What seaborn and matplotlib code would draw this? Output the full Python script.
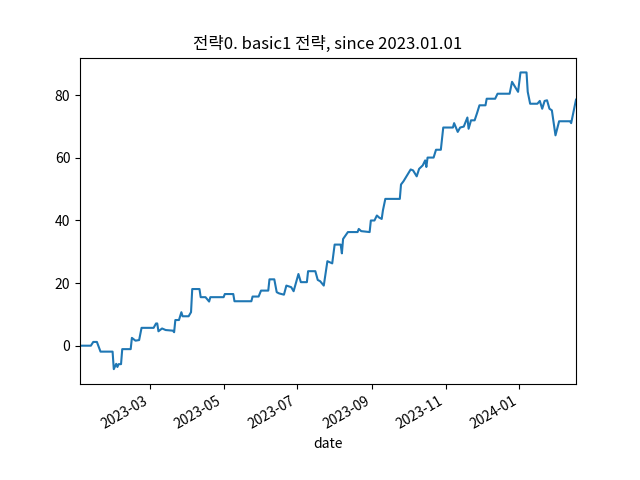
import matplotlib
matplotlib.use("Agg")
import matplotlib.pyplot as plt
import seaborn as sns
import pandas as pd

plt.rcParams['font.family'] = ['Noto Sans CJK KR', 'DejaVu Sans']
plt.rcParams['axes.unicode_minus'] = False

title = "전략0. basic1 전략, since 2023.01.01"

dates = [
    "2023-01-02", "2023-01-11", "2023-01-13", "2023-01-16", "2023-01-19", "2023-01-29",
    "2023-01-30", "2023-02-01", "2023-02-02", "2023-02-03", "2023-02-05", "2023-02-06",
    "2023-02-13", "2023-02-14", "2023-02-17", "2023-02-20", "2023-02-22", "2023-03-04",
    "2023-03-06", "2023-03-07", "2023-03-08", "2023-03-11", "2023-03-14", "2023-03-20",
    "2023-03-21", "2023-03-22", "2023-03-25", "2023-03-27", "2023-03-28", "2023-04-02",
    "2023-04-04", "2023-04-05", "2023-04-11", "2023-04-12", "2023-04-16", "2023-04-19",
    "2023-04-20", "2023-05-01", "2023-05-02", "2023-05-09", "2023-05-10", "2023-05-24",
    "2023-05-25", "2023-05-30", "2023-06-01", "2023-06-07", "2023-06-08", "2023-06-12",
    "2023-06-14", "2023-06-16", "2023-06-20", "2023-06-22", "2023-06-26", "2023-06-28",
    "2023-07-02", "2023-07-04", "2023-07-09", "2023-07-10", "2023-07-16", "2023-07-18",
    "2023-07-20", "2023-07-23", "2023-07-26", "2023-07-30", "2023-08-01", "2023-08-06",
    "2023-08-07", "2023-08-08", "2023-08-12", "2023-08-20", "2023-08-21", "2023-08-23",
    "2023-08-30", "2023-08-31", "2023-09-03", "2023-09-05", "2023-09-07", "2023-09-09",
    "2023-09-10", "2023-09-12", "2023-09-24", "2023-09-25", "2023-09-27", "2023-10-03",
    "2023-10-05", "2023-10-08", "2023-10-10", "2023-10-13", "2023-10-15", "2023-10-16",
    "2023-10-17", "2023-10-22", "2023-10-24", "2023-10-28", "2023-10-30", "2023-11-07",
    "2023-11-08", "2023-11-11", "2023-11-13", "2023-11-16", "2023-11-19", "2023-11-20",
    "2023-11-22", "2023-11-25", "2023-11-27", "2023-11-29", "2023-12-04", "2023-12-05",
    "2023-12-12", "2023-12-14", "2023-12-24", "2023-12-26", "2023-12-31", "2024-01-02",
    "2024-01-07", "2024-01-08", "2024-01-10", "2024-01-16", "2024-01-18", "2024-01-20",
    "2024-01-22", "2024-01-24", "2024-01-26", "2024-01-28", "2024-01-31", "2024-02-03",
    "2024-02-12", "2024-02-13", "2024-02-17",
]

values = [
    0.0, 0.0, 1.2, 1.2, -1.9, -1.9,
    -7.5, -5.8, -6.8, -5.9, -5.9, -1.1,
    -1.1, 2.5, 1.6, 1.8, 5.7, 5.7,
    7.1, 7.1, 4.6, 5.5, 5.0, 4.8,
    4.3, 8.2, 8.2, 10.7, 9.4, 9.4,
    10.7, 18.1, 18.1, 15.5, 15.5, 14.1,
    15.5, 15.5, 16.5, 16.5, 14.2, 14.2,
    15.7, 15.7, 17.6, 17.6, 21.2, 21.2,
    17.1, 16.7, 16.3, 19.2, 18.7, 17.4,
    22.9, 20.3, 20.3, 23.8, 23.8, 21.0,
    20.6, 19.2, 27.0, 26.3, 32.3, 32.3,
    29.5, 34.1, 36.3, 36.3, 37.3, 36.6,
    36.3, 40.0, 40.0, 41.6, 40.9, 40.5,
    43.2, 46.9, 46.9, 51.5, 52.5, 56.3,
    56.0, 54.1, 56.5, 57.6, 59.2, 57.1,
    60.1, 60.1, 62.6, 62.6, 69.7, 69.7,
    71.1, 68.3, 69.7, 70.0, 72.9, 69.3,
    72.0, 72.0, 74.3, 76.8, 76.8, 78.9,
    78.9, 80.5, 80.5, 84.3, 81.1, 87.3,
    87.3, 81.1, 77.3, 77.3, 78.2, 75.7,
    78.2, 78.4, 75.7, 75.2, 67.2, 71.7,
    71.7, 71.1, 78.6,
]

df = pd.DataFrame({"date": pd.to_datetime(dates), "value": values})

fig, ax = plt.subplots(figsize=(6.4, 4.8), dpi=100)
sns.lineplot(data=df, x="date", y="value", ax=ax, color="#1f77b4", linewidth=1.5)
ax.set_xlim(df["date"].min(), df["date"].max())
ax.set_ylabel("")
ax.set_xlabel("date")
ax.set_title(title)
fig.autofmt_xdate()
fig.savefig("out.png", dpi=100)
